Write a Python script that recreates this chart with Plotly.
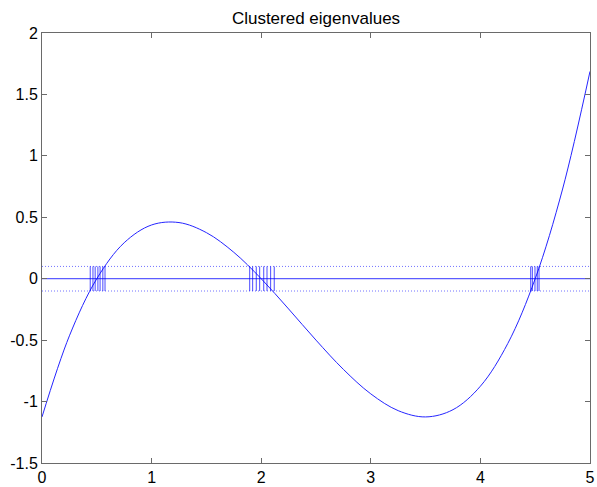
import plotly.graph_objects as go

# Curve samples
curve_x = [0, 0.25, 0.5, 0.75, 1.0, 1.25, 1.5, 1.75, 2.0, 2.25, 2.5, 2.75,
           3.0, 3.25, 3.5, 3.75, 4.0, 4.25, 4.5, 4.75, 5.0]
curve_y = [-1.125, -0.465, 0.0, 0.293, 0.4375, 0.457, 0.375, 0.215, 0.0, -0.246,
           -0.5, -0.738, -0.9375, -1.074, -1.125, -1.066, -0.875, -0.527, 0.0,
           0.730, 1.6875]

# Clustered eigenvalues (vertical marks)
eig_cluster1 = [0.44, 0.465, 0.485, 0.51, 0.53, 0.555, 0.575]
eig_cluster2 = [1.895, 1.922, 1.955, 1.986, 2.023, 2.053, 2.086, 2.119]
eig_cluster3 = [4.459, 4.474, 4.498, 4.519, 4.535]
eig_halfheight = 0.1

x_range = [0, 5]
y_range = [-1.5, 2]
x_ticks = [0, 1, 2, 3, 4, 5]
y_ticks = [-1.5, -1, -0.5, 0, 0.5, 1, 1.5, 2]
y_ticklabels = ["-1.5", "-1", "-0.5", "0", "0.5", "1", "1.5", "2"]
title_text = "Clustered eigenvalues"

BLUE = "rgb(0,0,255)"

fig = go.Figure()

# dotted band lines
for yv in (eig_halfheight, -eig_halfheight):
    fig.add_trace(go.Scatter(x=x_range, y=[yv, yv], mode="lines",
                             line=dict(color=BLUE, width=1, dash="1px,2px"),
                             hoverinfo="skip", showlegend=False, opacity=0.55))
# zero line
fig.add_trace(go.Scatter(x=x_range, y=[0, 0], mode="lines",
                         line=dict(color=BLUE, width=1),
                         hoverinfo="skip", showlegend=False, opacity=0.8))

# eigenvalue marks
vx, vy = [], []
for e in eig_cluster1 + eig_cluster2 + eig_cluster3:
    vx += [e, e, None]
    vy += [-eig_halfheight, eig_halfheight, None]
fig.add_trace(go.Scatter(x=vx, y=vy, mode="lines",
                         line=dict(color=BLUE, width=1),
                         hoverinfo="skip", showlegend=False, opacity=0.7))

# curve
fig.add_trace(go.Scatter(x=curve_x, y=curve_y, mode="lines",
                         line=dict(color=BLUE, width=1, shape="spline", smoothing=1.0),
                         hoverinfo="skip", showlegend=False, opacity=0.85))

axis_common = dict(showgrid=False, zeroline=False, showline=True, mirror="ticks",
                   automargin=False,
                   linecolor="#6a6a6a", linewidth=1, ticks="inside", ticklen=5,
                   tickcolor="#6a6a6a", tickfont=dict(family="Liberation Sans, Arial",
                                                      size=16, color="black"))
fig.update_xaxes(range=x_range, tickvals=x_ticks, ticktext=[str(t) for t in x_ticks],
                 **axis_common)
fig.update_yaxes(range=y_range, tickvals=y_ticks, ticktext=y_ticklabels, **axis_common)

fig.update_layout(
    width=597, height=487,
    margin=dict(l=42, r=7, t=33, b=24, autoexpand=False),
    paper_bgcolor="white", plot_bgcolor="white",
    title=dict(text=title_text, x=0.5, xanchor="center", xref="paper",
               y=1 - 18 / 487, yanchor="middle", automargin=False,
               font=dict(family="Liberation Sans, Arial", size=17, color="black")),
    showlegend=False,
)

fig.write_html("out.html", config={"displayModeBar": False})
